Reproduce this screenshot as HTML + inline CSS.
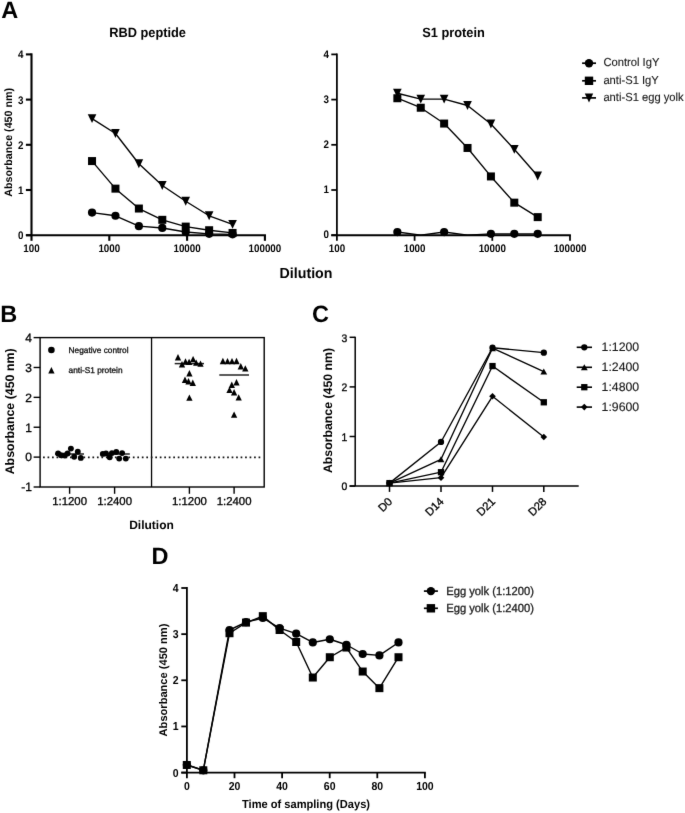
<!DOCTYPE html>
<html><head><meta charset="utf-8"><title>Figure</title>
<style>
html,body{margin:0;padding:0;background:#fff;}
body{width:685px;height:813px;overflow:hidden;}
svg{display:block;font-family:"Liberation Sans", sans-serif;}
text{text-rendering:geometricPrecision;}
</style></head>
<body>
<svg width="685" height="813" viewBox="0 0 685 813">
<defs><filter id="soft" x="0" y="0" width="685" height="813" filterUnits="userSpaceOnUse" color-interpolation-filters="sRGB"><feConvolveMatrix order="3" kernelMatrix="0.00524 0.06192 0.00524 0.06192 0.73137 0.06192 0.00524 0.06192 0.00524" edgeMode="duplicate"/></filter></defs>
<g filter="url(#soft)">
<rect width="685" height="813" fill="#fff"/>
<text transform="translate(1.30 17.80)" font-size="23.5" font-weight="bold" text-anchor="start" fill="#000" >A</text>
<line x1="31.50" y1="53.35" x2="31.50" y2="235.20" stroke="#000" stroke-width="2.1" />
<line x1="25.90" y1="235.20" x2="265.95" y2="235.20" stroke="#000" stroke-width="1.85" />
<line x1="25.90" y1="235.20" x2="31.50" y2="235.20" stroke="#000" stroke-width="2.1" />
<text transform="translate(23.50 239.10) scale(1 1.12)" font-size="9.8" font-weight="bold" text-anchor="end" fill="#000" >0</text>
<line x1="25.90" y1="190.00" x2="31.50" y2="190.00" stroke="#000" stroke-width="2.1" />
<text transform="translate(23.50 193.90) scale(1 1.12)" font-size="9.8" font-weight="bold" text-anchor="end" fill="#000" >1</text>
<line x1="25.90" y1="144.80" x2="31.50" y2="144.80" stroke="#000" stroke-width="2.1" />
<text transform="translate(23.50 148.70) scale(1 1.12)" font-size="9.8" font-weight="bold" text-anchor="end" fill="#000" >2</text>
<line x1="25.90" y1="99.60" x2="31.50" y2="99.60" stroke="#000" stroke-width="2.1" />
<text transform="translate(23.50 103.50) scale(1 1.12)" font-size="9.8" font-weight="bold" text-anchor="end" fill="#000" >3</text>
<line x1="25.90" y1="54.40" x2="31.50" y2="54.40" stroke="#000" stroke-width="2.1" />
<text transform="translate(23.50 58.30) scale(1 1.12)" font-size="9.8" font-weight="bold" text-anchor="end" fill="#000" >4</text>
<line x1="31.50" y1="235.20" x2="31.50" y2="240.80" stroke="#000" stroke-width="2.1" />
<text transform="translate(31.50 252.20) scale(1 1.12)" font-size="9.8" font-weight="bold" text-anchor="middle" fill="#000" >100</text>
<line x1="109.30" y1="235.20" x2="109.30" y2="240.80" stroke="#000" stroke-width="2.1" />
<text transform="translate(109.30 252.20) scale(1 1.12)" font-size="9.8" font-weight="bold" text-anchor="middle" fill="#000" >1000</text>
<line x1="187.10" y1="235.20" x2="187.10" y2="240.80" stroke="#000" stroke-width="2.1" />
<text transform="translate(187.10 252.20) scale(1 1.12)" font-size="9.8" font-weight="bold" text-anchor="middle" fill="#000" >10000</text>
<line x1="264.90" y1="235.20" x2="264.90" y2="240.80" stroke="#000" stroke-width="2.1" />
<text transform="translate(264.90 252.20) scale(1 1.12)" font-size="9.8" font-weight="bold" text-anchor="middle" fill="#000" >100000</text>
<text transform="translate(147.60 36.50) scale(1 1.04)" font-size="12.8" font-weight="bold" text-anchor="middle" fill="#000" >RBD peptide</text>
<polyline points="92.04,212.60 115.46,215.76 138.88,226.16 162.30,227.97 185.72,232.04 209.14,233.84 232.56,234.30" fill="none" stroke="#000" stroke-width="1.35" stroke-linejoin="round"/>
<polyline points="92.04,161.07 115.46,188.64 138.88,208.53 162.30,219.83 185.72,226.61 209.14,230.23 232.56,232.94" fill="none" stroke="#000" stroke-width="1.35" stroke-linejoin="round"/>
<polyline points="92.04,118.58 115.46,133.50 138.88,163.78 162.30,185.48 185.72,201.30 209.14,215.76 232.56,224.35" fill="none" stroke="#000" stroke-width="1.35" stroke-linejoin="round"/>
<circle cx="92.04" cy="212.60" r="4.10" fill="#000"/>
<circle cx="115.46" cy="215.76" r="4.10" fill="#000"/>
<circle cx="138.88" cy="226.16" r="4.10" fill="#000"/>
<circle cx="162.30" cy="227.97" r="4.10" fill="#000"/>
<circle cx="185.72" cy="232.04" r="4.10" fill="#000"/>
<circle cx="209.14" cy="233.84" r="4.10" fill="#000"/>
<circle cx="232.56" cy="234.30" r="4.10" fill="#000"/>
<rect x="88.04" y="157.07" width="8.00" height="8.00" fill="#000"/>
<rect x="111.46" y="184.64" width="8.00" height="8.00" fill="#000"/>
<rect x="134.88" y="204.53" width="8.00" height="8.00" fill="#000"/>
<rect x="158.30" y="215.83" width="8.00" height="8.00" fill="#000"/>
<rect x="181.72" y="222.61" width="8.00" height="8.00" fill="#000"/>
<rect x="205.14" y="226.23" width="8.00" height="8.00" fill="#000"/>
<rect x="228.56" y="228.94" width="8.00" height="8.00" fill="#000"/>
<polygon points="87.74,114.15 96.34,114.15 92.04,123.01" fill="#000"/>
<polygon points="111.16,129.07 119.76,129.07 115.46,137.93" fill="#000"/>
<polygon points="134.58,159.35 143.18,159.35 138.88,168.21" fill="#000"/>
<polygon points="158.00,181.05 166.60,181.05 162.30,189.91" fill="#000"/>
<polygon points="181.42,196.87 190.02,196.87 185.72,205.73" fill="#000"/>
<polygon points="204.84,211.33 213.44,211.33 209.14,220.19" fill="#000"/>
<polygon points="228.26,219.92 236.86,219.92 232.56,228.78" fill="#000"/>
<line x1="336.90" y1="53.52" x2="336.90" y2="235.20" stroke="#000" stroke-width="1.75" />
<line x1="331.30" y1="235.20" x2="570.88" y2="235.20" stroke="#000" stroke-width="2.0" />
<line x1="331.30" y1="235.20" x2="336.90" y2="235.20" stroke="#000" stroke-width="1.75" />
<text transform="translate(328.90 238.30) scale(1 1.12)" font-size="9.8" font-weight="bold" text-anchor="end" fill="#000" >0</text>
<line x1="331.30" y1="190.00" x2="336.90" y2="190.00" stroke="#000" stroke-width="1.75" />
<text transform="translate(328.90 193.10) scale(1 1.12)" font-size="9.8" font-weight="bold" text-anchor="end" fill="#000" >1</text>
<line x1="331.30" y1="144.80" x2="336.90" y2="144.80" stroke="#000" stroke-width="1.75" />
<text transform="translate(328.90 147.90) scale(1 1.12)" font-size="9.8" font-weight="bold" text-anchor="end" fill="#000" >2</text>
<line x1="331.30" y1="99.60" x2="336.90" y2="99.60" stroke="#000" stroke-width="1.75" />
<text transform="translate(328.90 102.70) scale(1 1.12)" font-size="9.8" font-weight="bold" text-anchor="end" fill="#000" >3</text>
<line x1="331.30" y1="54.40" x2="336.90" y2="54.40" stroke="#000" stroke-width="1.75" />
<text transform="translate(328.90 57.50) scale(1 1.12)" font-size="9.8" font-weight="bold" text-anchor="end" fill="#000" >4</text>
<line x1="336.90" y1="235.20" x2="336.90" y2="240.80" stroke="#000" stroke-width="1.75" />
<text transform="translate(336.90 251.60) scale(1 1.12)" font-size="9.8" font-weight="bold" text-anchor="middle" fill="#000" >100</text>
<line x1="414.60" y1="235.20" x2="414.60" y2="240.80" stroke="#000" stroke-width="1.75" />
<text transform="translate(414.60 251.60) scale(1 1.12)" font-size="9.8" font-weight="bold" text-anchor="middle" fill="#000" >1000</text>
<line x1="492.30" y1="235.20" x2="492.30" y2="240.80" stroke="#000" stroke-width="1.75" />
<text transform="translate(492.30 251.60) scale(1 1.12)" font-size="9.8" font-weight="bold" text-anchor="middle" fill="#000" >10000</text>
<line x1="570.00" y1="235.20" x2="570.00" y2="240.80" stroke="#000" stroke-width="1.75" />
<text transform="translate(570.00 251.60) scale(1 1.12)" font-size="9.8" font-weight="bold" text-anchor="middle" fill="#000" >100000</text>
<text transform="translate(453.50 36.50) scale(1 1.04)" font-size="12.8" font-weight="bold" text-anchor="middle" fill="#000" >S1 protein</text>
<polyline points="397.36,232.04 420.75,235.20 444.14,232.04 467.53,235.20 490.92,233.84 514.31,233.84 537.70,233.84" fill="none" stroke="#000" stroke-width="1.35" stroke-linejoin="round"/>
<polyline points="397.36,98.24 420.75,107.74 444.14,123.56 467.53,147.96 490.92,176.44 514.31,202.66 537.70,217.12" fill="none" stroke="#000" stroke-width="1.35" stroke-linejoin="round"/>
<polyline points="397.36,93.27 420.75,99.15 444.14,99.15 467.53,105.48 490.92,124.01 514.31,149.32 537.70,175.99" fill="none" stroke="#000" stroke-width="1.35" stroke-linejoin="round"/>
<circle cx="397.36" cy="232.04" r="4.10" fill="#000"/>
<circle cx="444.14" cy="232.04" r="4.10" fill="#000"/>
<circle cx="490.92" cy="233.84" r="4.10" fill="#000"/>
<circle cx="514.31" cy="233.84" r="4.10" fill="#000"/>
<circle cx="537.70" cy="233.84" r="4.10" fill="#000"/>
<rect x="393.36" y="94.24" width="8.00" height="8.00" fill="#000"/>
<rect x="416.75" y="103.74" width="8.00" height="8.00" fill="#000"/>
<rect x="440.14" y="119.56" width="8.00" height="8.00" fill="#000"/>
<rect x="463.53" y="143.96" width="8.00" height="8.00" fill="#000"/>
<rect x="486.92" y="172.44" width="8.00" height="8.00" fill="#000"/>
<rect x="510.31" y="198.66" width="8.00" height="8.00" fill="#000"/>
<rect x="533.70" y="213.12" width="8.00" height="8.00" fill="#000"/>
<polygon points="393.06,88.84 401.66,88.84 397.36,97.70" fill="#000"/>
<polygon points="416.45,94.72 425.05,94.72 420.75,103.58" fill="#000"/>
<polygon points="439.84,94.72 448.44,94.72 444.14,103.58" fill="#000"/>
<polygon points="463.23,101.05 471.83,101.05 467.53,109.90" fill="#000"/>
<polygon points="486.62,119.58 495.22,119.58 490.92,128.44" fill="#000"/>
<polygon points="510.01,144.89 518.61,144.89 514.31,153.75" fill="#000"/>
<polygon points="533.40,171.56 542.00,171.56 537.70,180.42" fill="#000"/>
<text transform="translate(306.00 277.70) scale(1 1.03)" font-size="14.2" font-weight="bold" text-anchor="middle" fill="#000" >Dilution</text>
<text transform="translate(12.40 142.30) rotate(-90)" font-size="10.7" font-weight="bold" text-anchor="middle" fill="#000" >Absorbance (450 nm)</text>
<line x1="582.10" y1="63.20" x2="596.00" y2="63.20" stroke="#000" stroke-width="1.7" />
<circle cx="589.00" cy="63.20" r="4.20" fill="#000"/>
<text transform="translate(603.40 65.90) scale(1 1.04)" font-size="11.2" text-anchor="start" fill="#1a1a1a" stroke="#1a1a1a" stroke-width="0.12" >Control IgY</text>
<line x1="582.10" y1="80.80" x2="596.00" y2="80.80" stroke="#000" stroke-width="1.7" />
<rect x="584.80" y="76.60" width="8.40" height="8.40" fill="#000"/>
<text transform="translate(603.40 83.50) scale(1 1.04)" font-size="11.2" text-anchor="start" fill="#1a1a1a" stroke="#1a1a1a" stroke-width="0.12" >anti-S1 IgY</text>
<line x1="582.10" y1="97.90" x2="596.00" y2="97.90" stroke="#000" stroke-width="1.7" />
<polygon points="584.80,93.40 593.20,93.40 589.00,102.40" fill="#000"/>
<text transform="translate(603.40 100.60) scale(1 1.04)" font-size="11.2" text-anchor="start" fill="#1a1a1a" stroke="#1a1a1a" stroke-width="0.12" >anti-S1 egg yolk</text>
<text transform="translate(0.20 321.50)" font-size="23.5" font-weight="bold" text-anchor="start" fill="#000" >B</text>
<rect x="40.1" y="337.6" width="224.1" height="149.39999999999998" fill="none" stroke="#000" stroke-width="1.4"/>
<line x1="151.55" y1="337.60" x2="151.55" y2="487.00" stroke="#000" stroke-width="1.3" />
<line x1="33.60" y1="487.00" x2="40.10" y2="487.00" stroke="#000" stroke-width="1.4" />
<text transform="translate(31.90 491.30)" font-size="12" text-anchor="end" fill="#000" stroke="#000" stroke-width="0.3" >-1</text>
<line x1="33.60" y1="457.12" x2="40.10" y2="457.12" stroke="#000" stroke-width="1.4" />
<text transform="translate(31.90 461.42)" font-size="12" text-anchor="end" fill="#000" stroke="#000" stroke-width="0.3" >0</text>
<line x1="33.60" y1="427.24" x2="40.10" y2="427.24" stroke="#000" stroke-width="1.4" />
<text transform="translate(31.90 431.54)" font-size="12" text-anchor="end" fill="#000" stroke="#000" stroke-width="0.3" >1</text>
<line x1="33.60" y1="397.36" x2="40.10" y2="397.36" stroke="#000" stroke-width="1.4" />
<text transform="translate(31.90 401.66)" font-size="12" text-anchor="end" fill="#000" stroke="#000" stroke-width="0.3" >2</text>
<line x1="33.60" y1="367.48" x2="40.10" y2="367.48" stroke="#000" stroke-width="1.4" />
<text transform="translate(31.90 371.78)" font-size="12" text-anchor="end" fill="#000" stroke="#000" stroke-width="0.3" >3</text>
<line x1="33.60" y1="337.60" x2="40.10" y2="337.60" stroke="#000" stroke-width="1.4" />
<text transform="translate(31.90 341.90)" font-size="12" text-anchor="end" fill="#000" stroke="#000" stroke-width="0.3" >4</text>
<line x1="69.60" y1="487.00" x2="69.60" y2="493.80" stroke="#000" stroke-width="1.4" />
<text transform="translate(69.60 505.20)" font-size="11.4" text-anchor="middle" fill="#000" stroke="#000" stroke-width="0.3" >1:1200</text>
<line x1="114.60" y1="487.00" x2="114.60" y2="493.80" stroke="#000" stroke-width="1.4" />
<text transform="translate(114.60 505.20)" font-size="11.4" text-anchor="middle" fill="#000" stroke="#000" stroke-width="0.3" >1:2400</text>
<line x1="189.40" y1="487.00" x2="189.40" y2="493.80" stroke="#000" stroke-width="1.4" />
<text transform="translate(189.40 505.20)" font-size="11.4" text-anchor="middle" fill="#000" stroke="#000" stroke-width="0.3" >1:1200</text>
<line x1="234.10" y1="487.00" x2="234.10" y2="493.80" stroke="#000" stroke-width="1.4" />
<text transform="translate(234.10 505.20)" font-size="11.4" text-anchor="middle" fill="#000" stroke="#000" stroke-width="0.3" >1:2400</text>
<text transform="translate(151.50 528.90)" font-size="12" font-weight="bold" text-anchor="middle" fill="#000" >Dilution</text>
<text transform="translate(13.50 411.35) rotate(-90)" font-size="12.4" font-weight="bold" text-anchor="middle" fill="#000" >Absorbance (450 nm)</text>
<line x1="43.05" y1="457.30" x2="263.00" y2="457.30" stroke="#111" stroke-width="1.8" stroke-dasharray="1.7 2.79"/>
<circle cx="51.40" cy="350.00" r="3.30" fill="#000"/>
<polygon points="48.25,373.50 54.55,373.50 51.40,366.90" fill="#000"/>
<text transform="translate(68.60 353.30)" font-size="8.3" text-anchor="start" fill="#111" stroke="#111" stroke-width="0.3" >Negative control</text>
<text transform="translate(68.60 373.30)" font-size="8.3" text-anchor="start" fill="#111" stroke="#111" stroke-width="0.3" >anti-S1 protein</text>
<line x1="174.70" y1="363.60" x2="204.00" y2="363.60" stroke="#222" stroke-width="1.5" />
<line x1="219.30" y1="375.00" x2="249.00" y2="375.00" stroke="#222" stroke-width="1.5" />
<polygon points="174.85,360.50 181.15,360.50 178.00,354.10" fill="#000"/>
<polygon points="178.85,367.50 185.15,367.50 182.00,361.10" fill="#000"/>
<polygon points="182.35,364.70 188.65,364.70 185.50,358.30" fill="#000"/>
<polygon points="185.95,365.10 192.25,365.10 189.10,358.70" fill="#000"/>
<polygon points="189.95,362.30 196.25,362.30 193.10,355.90" fill="#000"/>
<polygon points="193.05,365.80 199.35,365.80 196.20,359.40" fill="#000"/>
<polygon points="197.35,366.80 203.65,366.80 200.50,360.40" fill="#000"/>
<polygon points="186.25,376.50 192.55,376.50 189.40,370.10" fill="#000"/>
<polygon points="181.85,383.00 188.15,383.00 185.00,376.60" fill="#000"/>
<polygon points="185.35,384.50 191.65,384.50 188.50,378.10" fill="#000"/>
<polygon points="189.65,386.00 195.95,386.00 192.80,379.60" fill="#000"/>
<polygon points="186.25,400.80 192.55,400.80 189.40,394.40" fill="#000"/>
<polygon points="219.75,364.20 226.05,364.20 222.90,357.80" fill="#000"/>
<polygon points="224.35,364.30 230.65,364.30 227.50,357.90" fill="#000"/>
<polygon points="228.85,364.30 235.15,364.30 232.00,357.90" fill="#000"/>
<polygon points="233.35,364.20 239.65,364.20 236.50,357.80" fill="#000"/>
<polygon points="237.65,369.50 243.95,369.50 240.80,363.10" fill="#000"/>
<polygon points="242.15,371.60 248.45,371.60 245.30,365.20" fill="#000"/>
<polygon points="233.35,385.50 239.65,385.50 236.50,379.10" fill="#000"/>
<polygon points="228.65,388.00 234.95,388.00 231.80,381.60" fill="#000"/>
<polygon points="226.35,393.10 232.65,393.10 229.50,386.70" fill="#000"/>
<polygon points="230.95,395.50 237.25,395.50 234.10,389.10" fill="#000"/>
<polygon points="235.55,400.60 241.85,400.60 238.70,394.20" fill="#000"/>
<polygon points="230.95,417.80 237.25,417.80 234.10,411.40" fill="#000"/>
<line x1="55.00" y1="454.00" x2="84.00" y2="454.00" stroke="#222" stroke-width="1.5" />
<line x1="100.00" y1="454.00" x2="129.80" y2="454.00" stroke="#222" stroke-width="1.5" />
<circle cx="58.10" cy="453.50" r="2.95" fill="#000"/>
<circle cx="61.00" cy="455.30" r="2.95" fill="#000"/>
<circle cx="64.70" cy="455.50" r="2.95" fill="#000"/>
<circle cx="67.60" cy="453.50" r="2.95" fill="#000"/>
<circle cx="70.90" cy="448.60" r="2.95" fill="#000"/>
<circle cx="74.20" cy="456.80" r="2.95" fill="#000"/>
<circle cx="77.80" cy="451.70" r="2.95" fill="#000"/>
<circle cx="80.80" cy="457.90" r="2.95" fill="#000"/>
<circle cx="102.80" cy="453.90" r="2.95" fill="#000"/>
<circle cx="106.00" cy="453.50" r="2.95" fill="#000"/>
<circle cx="109.70" cy="457.20" r="2.95" fill="#000"/>
<circle cx="111.90" cy="453.10" r="2.95" fill="#000"/>
<circle cx="116.30" cy="452.00" r="2.95" fill="#000"/>
<circle cx="119.20" cy="458.60" r="2.95" fill="#000"/>
<circle cx="122.10" cy="453.10" r="2.95" fill="#000"/>
<circle cx="125.80" cy="458.60" r="2.95" fill="#000"/>
<text transform="translate(312.00 321.50)" font-size="23.5" font-weight="bold" text-anchor="start" fill="#000" >C</text>
<line x1="355.20" y1="336.75" x2="355.20" y2="486.10" stroke="#000" stroke-width="1.5" />
<line x1="349.60" y1="486.10" x2="578.70" y2="486.10" stroke="#000" stroke-width="1.5" />
<line x1="349.60" y1="486.10" x2="355.20" y2="486.10" stroke="#000" stroke-width="1.5" />
<text transform="translate(347.20 490.40) scale(1 1.05)" font-size="10.4" text-anchor="end" fill="#000" stroke="#000" stroke-width="0.3" >0</text>
<line x1="349.60" y1="436.50" x2="355.20" y2="436.50" stroke="#000" stroke-width="1.5" />
<text transform="translate(347.20 440.80) scale(1 1.05)" font-size="10.4" text-anchor="end" fill="#000" stroke="#000" stroke-width="0.3" >1</text>
<line x1="349.60" y1="386.90" x2="355.20" y2="386.90" stroke="#000" stroke-width="1.5" />
<text transform="translate(347.20 391.20) scale(1 1.05)" font-size="10.4" text-anchor="end" fill="#000" stroke="#000" stroke-width="0.3" >2</text>
<line x1="349.60" y1="337.30" x2="355.20" y2="337.30" stroke="#000" stroke-width="1.5" />
<text transform="translate(347.20 341.60) scale(1 1.05)" font-size="10.4" text-anchor="end" fill="#000" stroke="#000" stroke-width="0.3" >3</text>
<line x1="389.50" y1="486.10" x2="389.50" y2="491.90" stroke="#000" stroke-width="1.5" />
<text transform="translate(393.00 502.20) rotate(-45)" font-size="11.3" text-anchor="end" fill="#000" stroke="#000" stroke-width="0.3" >D0</text>
<line x1="441.00" y1="486.10" x2="441.00" y2="491.90" stroke="#000" stroke-width="1.5" />
<text transform="translate(444.50 502.20) rotate(-45)" font-size="11.3" text-anchor="end" fill="#000" stroke="#000" stroke-width="0.3" >D14</text>
<line x1="492.50" y1="486.10" x2="492.50" y2="491.90" stroke="#000" stroke-width="1.5" />
<text transform="translate(496.00 502.20) rotate(-45)" font-size="11.3" text-anchor="end" fill="#000" stroke="#000" stroke-width="0.3" >D21</text>
<line x1="543.80" y1="486.10" x2="543.80" y2="491.90" stroke="#000" stroke-width="1.5" />
<text transform="translate(547.30 502.20) rotate(-45)" font-size="11.3" text-anchor="end" fill="#000" stroke="#000" stroke-width="0.3" >D28</text>
<text transform="translate(332.20 410.50) rotate(-90)" font-size="12.3" font-weight="bold" text-anchor="middle" fill="#000" >Absorbance (450 nm)</text>
<polyline points="389.50,483.12 441.00,441.96 492.50,347.72 543.80,352.68" fill="none" stroke="#000" stroke-width="1.35" stroke-linejoin="round"/>
<polyline points="389.50,483.12 441.00,459.32 492.50,348.21 543.80,371.52" fill="none" stroke="#000" stroke-width="1.35" stroke-linejoin="round"/>
<polyline points="389.50,483.12 441.00,472.21 492.50,366.07 543.80,402.28" fill="none" stroke="#000" stroke-width="1.35" stroke-linejoin="round"/>
<polyline points="389.50,483.12 441.00,477.67 492.50,396.32 543.80,437.00" fill="none" stroke="#000" stroke-width="1.35" stroke-linejoin="round"/>
<circle cx="389.50" cy="483.12" r="3.15" fill="#000"/>
<circle cx="441.00" cy="441.96" r="3.15" fill="#000"/>
<circle cx="492.50" cy="347.72" r="3.15" fill="#000"/>
<circle cx="543.80" cy="352.68" r="3.15" fill="#000"/>
<polygon points="386.10,486.12 392.90,486.12 389.50,480.12" fill="#000"/>
<polygon points="437.60,462.32 444.40,462.32 441.00,456.32" fill="#000"/>
<polygon points="489.10,351.21 495.90,351.21 492.50,345.21" fill="#000"/>
<polygon points="540.40,374.52 547.20,374.52 543.80,368.52" fill="#000"/>
<rect x="386.35" y="479.97" width="6.30" height="6.30" fill="#000"/>
<rect x="437.85" y="469.06" width="6.30" height="6.30" fill="#000"/>
<rect x="489.35" y="362.92" width="6.30" height="6.30" fill="#000"/>
<rect x="540.65" y="399.13" width="6.30" height="6.30" fill="#000"/>
<polygon points="389.50,479.82 392.80,483.12 389.50,486.42 386.20,483.12" fill="#000"/>
<polygon points="441.00,474.37 444.30,477.67 441.00,480.97 437.70,477.67" fill="#000"/>
<polygon points="492.50,393.02 495.80,396.32 492.50,399.62 489.20,396.32" fill="#000"/>
<polygon points="543.80,433.70 547.10,437.00 543.80,440.30 540.50,437.00" fill="#000"/>
<line x1="576.70" y1="347.30" x2="592.00" y2="347.30" stroke="#000" stroke-width="1.6" />
<circle cx="584.30" cy="347.30" r="3.15" fill="#000"/>
<text transform="translate(601.60 351.00)" font-size="12.3" text-anchor="start" fill="#1a1a1a" stroke="#1a1a1a" stroke-width="0.15" >1:1200</text>
<line x1="576.70" y1="367.30" x2="592.00" y2="367.30" stroke="#000" stroke-width="1.6" />
<polygon points="580.90,370.30 587.70,370.30 584.30,364.30" fill="#000"/>
<text transform="translate(601.60 371.00)" font-size="12.3" text-anchor="start" fill="#1a1a1a" stroke="#1a1a1a" stroke-width="0.15" >1:2400</text>
<line x1="576.70" y1="387.20" x2="592.00" y2="387.20" stroke="#000" stroke-width="1.6" />
<rect x="581.15" y="384.05" width="6.30" height="6.30" fill="#000"/>
<text transform="translate(601.60 390.90)" font-size="12.3" text-anchor="start" fill="#1a1a1a" stroke="#1a1a1a" stroke-width="0.15" >1:4800</text>
<line x1="576.70" y1="407.10" x2="592.00" y2="407.10" stroke="#000" stroke-width="1.6" />
<polygon points="584.30,403.80 587.60,407.10 584.30,410.40 581.00,407.10" fill="#000"/>
<text transform="translate(601.60 410.80)" font-size="12.3" text-anchor="start" fill="#1a1a1a" stroke="#1a1a1a" stroke-width="0.15" >1:9600</text>
<text transform="translate(151.40 563.70)" font-size="23.5" font-weight="bold" text-anchor="start" fill="#000" >D</text>
<line x1="186.90" y1="586.90" x2="186.90" y2="772.60" stroke="#000" stroke-width="1.8" />
<line x1="181.30" y1="772.60" x2="425.80" y2="772.60" stroke="#000" stroke-width="1.8" />
<line x1="181.30" y1="772.60" x2="186.90" y2="772.60" stroke="#000" stroke-width="1.8" />
<text transform="translate(178.70 776.50) scale(1 1.1)" font-size="10.5" font-weight="bold" text-anchor="end" fill="#000" >0</text>
<line x1="181.30" y1="726.45" x2="186.90" y2="726.45" stroke="#000" stroke-width="1.8" />
<text transform="translate(178.70 730.35) scale(1 1.1)" font-size="10.5" font-weight="bold" text-anchor="end" fill="#000" >1</text>
<line x1="181.30" y1="680.30" x2="186.90" y2="680.30" stroke="#000" stroke-width="1.8" />
<text transform="translate(178.70 684.20) scale(1 1.1)" font-size="10.5" font-weight="bold" text-anchor="end" fill="#000" >2</text>
<line x1="181.30" y1="634.15" x2="186.90" y2="634.15" stroke="#000" stroke-width="1.8" />
<text transform="translate(178.70 638.05) scale(1 1.1)" font-size="10.5" font-weight="bold" text-anchor="end" fill="#000" >3</text>
<line x1="181.30" y1="588.00" x2="186.90" y2="588.00" stroke="#000" stroke-width="1.8" />
<text transform="translate(178.70 591.90) scale(1 1.1)" font-size="10.5" font-weight="bold" text-anchor="end" fill="#000" >4</text>
<line x1="186.90" y1="772.60" x2="186.90" y2="778.20" stroke="#000" stroke-width="1.8" />
<text transform="translate(186.90 789.80) scale(1 1.1)" font-size="10.5" font-weight="bold" text-anchor="middle" fill="#000" >0</text>
<line x1="234.50" y1="772.60" x2="234.50" y2="778.20" stroke="#000" stroke-width="1.8" />
<text transform="translate(234.50 789.80) scale(1 1.1)" font-size="10.5" font-weight="bold" text-anchor="middle" fill="#000" >20</text>
<line x1="282.10" y1="772.60" x2="282.10" y2="778.20" stroke="#000" stroke-width="1.8" />
<text transform="translate(282.10 789.80) scale(1 1.1)" font-size="10.5" font-weight="bold" text-anchor="middle" fill="#000" >40</text>
<line x1="329.70" y1="772.60" x2="329.70" y2="778.20" stroke="#000" stroke-width="1.8" />
<text transform="translate(329.70 789.80) scale(1 1.1)" font-size="10.5" font-weight="bold" text-anchor="middle" fill="#000" >60</text>
<line x1="377.30" y1="772.60" x2="377.30" y2="778.20" stroke="#000" stroke-width="1.8" />
<text transform="translate(377.30 789.80) scale(1 1.1)" font-size="10.5" font-weight="bold" text-anchor="middle" fill="#000" >80</text>
<line x1="424.90" y1="772.60" x2="424.90" y2="778.20" stroke="#000" stroke-width="1.8" />
<text transform="translate(424.90 789.80) scale(1 1.1)" font-size="10.5" font-weight="bold" text-anchor="middle" fill="#000" >100</text>
<text transform="translate(306.00 808.20) scale(1 1.06)" font-size="11.1" font-weight="bold" text-anchor="middle" fill="#000" >Time of sampling (Days)</text>
<text transform="translate(167.30 680.00) rotate(-90)" font-size="11.1" font-weight="bold" text-anchor="middle" fill="#000" >Absorbance (450 nm)</text>
<polyline points="186.80,764.75 203.30,770.29 229.50,630.00 246.00,622.15 262.80,618.00 279.60,628.15 296.20,633.69 312.80,642.46 329.80,639.23 346.40,644.76 362.70,653.99 379.40,655.38 398.50,642.46" fill="none" stroke="#000" stroke-width="1.4" stroke-linejoin="round"/>
<polyline points="186.80,764.99 203.30,770.29 229.50,633.23 246.00,622.61 262.80,616.15 279.60,630.00 296.20,642.00 312.80,677.53 329.80,657.23 346.40,647.53 362.70,671.53 379.40,688.15 398.50,657.23" fill="none" stroke="#000" stroke-width="1.4" stroke-linejoin="round"/>
<circle cx="186.80" cy="764.75" r="4.10" fill="#000"/>
<circle cx="203.30" cy="770.29" r="4.10" fill="#000"/>
<circle cx="229.50" cy="630.00" r="4.10" fill="#000"/>
<circle cx="246.00" cy="622.15" r="4.10" fill="#000"/>
<circle cx="262.80" cy="618.00" r="4.10" fill="#000"/>
<circle cx="279.60" cy="628.15" r="4.10" fill="#000"/>
<circle cx="296.20" cy="633.69" r="4.10" fill="#000"/>
<circle cx="312.80" cy="642.46" r="4.10" fill="#000"/>
<circle cx="329.80" cy="639.23" r="4.10" fill="#000"/>
<circle cx="346.40" cy="644.76" r="4.10" fill="#000"/>
<circle cx="362.70" cy="653.99" r="4.10" fill="#000"/>
<circle cx="379.40" cy="655.38" r="4.10" fill="#000"/>
<circle cx="398.50" cy="642.46" r="4.10" fill="#000"/>
<rect x="182.80" y="760.99" width="8.00" height="8.00" fill="#000"/>
<rect x="199.30" y="766.29" width="8.00" height="8.00" fill="#000"/>
<rect x="225.50" y="629.23" width="8.00" height="8.00" fill="#000"/>
<rect x="242.00" y="618.61" width="8.00" height="8.00" fill="#000"/>
<rect x="258.80" y="612.15" width="8.00" height="8.00" fill="#000"/>
<rect x="275.60" y="626.00" width="8.00" height="8.00" fill="#000"/>
<rect x="292.20" y="638.00" width="8.00" height="8.00" fill="#000"/>
<rect x="308.80" y="673.53" width="8.00" height="8.00" fill="#000"/>
<rect x="325.80" y="653.23" width="8.00" height="8.00" fill="#000"/>
<rect x="342.40" y="643.53" width="8.00" height="8.00" fill="#000"/>
<rect x="358.70" y="667.53" width="8.00" height="8.00" fill="#000"/>
<rect x="375.40" y="684.15" width="8.00" height="8.00" fill="#000"/>
<rect x="394.50" y="653.23" width="8.00" height="8.00" fill="#000"/>
<line x1="423.90" y1="591.10" x2="437.90" y2="591.10" stroke="#000" stroke-width="1.7" />
<circle cx="430.90" cy="591.10" r="4.20" fill="#000"/>
<text transform="translate(446.20 594.70) scale(1 1.05)" font-size="11.2" text-anchor="start" fill="#222" stroke="#222" stroke-width="0.3" >Egg yolk (1:1200)</text>
<line x1="423.90" y1="608.30" x2="437.90" y2="608.30" stroke="#000" stroke-width="1.7" />
<rect x="426.70" y="604.10" width="8.40" height="8.40" fill="#000"/>
<text transform="translate(446.20 611.90) scale(1 1.05)" font-size="11.2" text-anchor="start" fill="#222" stroke="#222" stroke-width="0.3" >Egg yolk (1:2400)</text>
</g>
</svg>
</body></html>
